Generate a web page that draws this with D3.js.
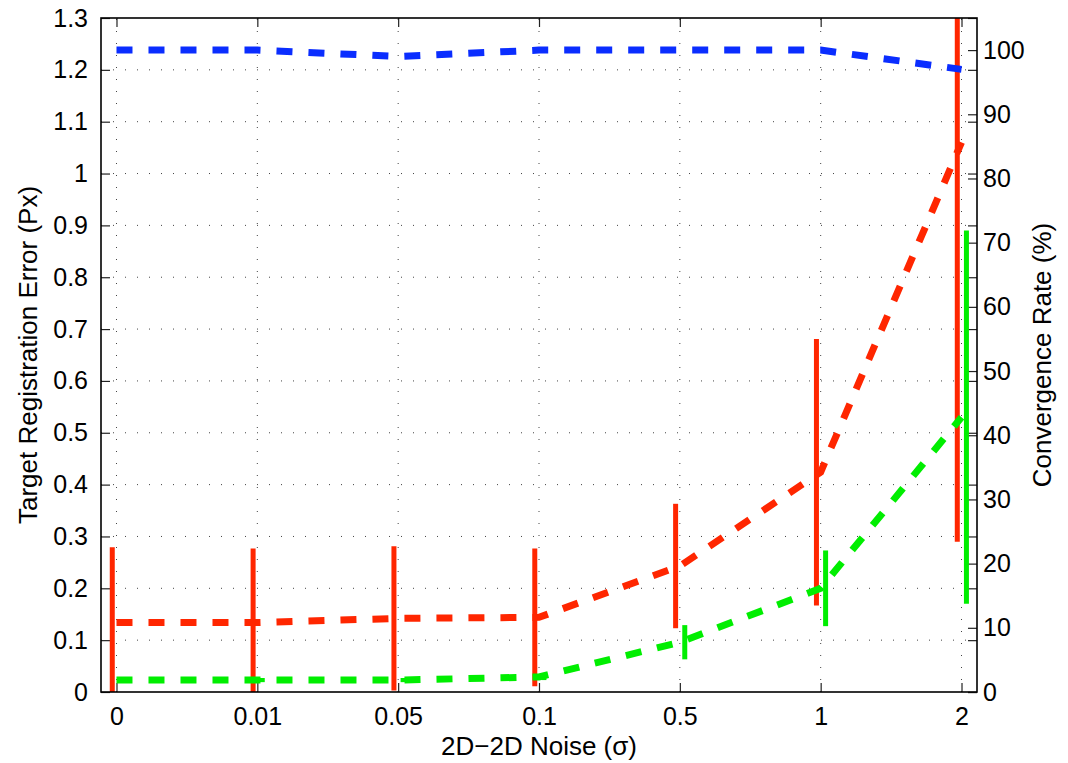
<!DOCTYPE html>
<html><head><meta charset="utf-8">
<script src="https://cdn.jsdelivr.net/npm/d3@7"></script>
<style>
html,body{margin:0;padding:0;background:#fff;}
svg{display:block;font-family:"Liberation Sans",Arial,Helvetica,sans-serif;}
</style></head>
<body>
<svg id="chart" width="1068" height="763"></svg>
<script>
// ---- data ----
const categories = ["0", "0.01", "0.05", "0.1", "0.5", "1", "2"];
const redMean  = [0.134, 0.134, 0.142, 0.144, 0.243, 0.424, 1.06];
const redErr   = [0.145, 0.143, 0.139, 0.133, 0.120, 0.257, 0.77];
const greenMean = [0.023, 0.023, 0.023, 0.029, 0.096, 0.200, 0.530];
const greenErr  = [0.004, 0.004, 0.004, 0.006, 0.033, 0.073, 0.360];
const convRate  = [100, 100, 99, 100, 100, 100, 97];
const leftTicks  = [0, 0.1, 0.2, 0.3, 0.4, 0.5, 0.6, 0.7, 0.8, 0.9, 1, 1.1, 1.2, 1.3];
const rightTicks = [0, 10, 20, 30, 40, 50, 60, 70, 80, 90, 100];

// ---- layout ----
const L = 101, R = 977, T = 18, B = 692;
const svg = d3.select("#chart");
const x  = d3.scaleLinear().domain([-0.11, 6.11]).range([L, R]);
const yL = d3.scaleLinear().domain([0, 1.3]).range([B, T]);
const yR = d3.scaleLinear().domain([0, 105]).range([B, T]);
const idx = d3.range(categories.length);

const FS = 25, LFS = 26;
const red = "#ff2600", green = "#00ee00", blue = "#0a2dff";

svg.append("defs").append("clipPath").attr("id", "clip")
  .append("rect").attr("x", L).attr("y", T).attr("width", R - L).attr("height", B - T);

// grid
const grid = svg.append("g").attr("stroke", "#444").attr("stroke-width", 1).attr("stroke-dasharray", "1,11");
grid.selectAll("line.v").data(idx).join("line").attr("class", "v")
  .attr("x1", d => x(d)).attr("x2", d => x(d)).attr("y1", B).attr("y2", T);
grid.selectAll("line.h").data(leftTicks.filter(v => v > 0 && v < 1.3)).join("line").attr("class", "h")
  .attr("x1", L).attr("x2", R).attr("y1", d => yL(d)).attr("y2", d => yL(d));

// axes
function styleAxis(g) {
  g.select(".domain").remove();
  g.selectAll(".tick line").attr("stroke", "#222").attr("stroke-width", 1.2);
  g.selectAll(".tick text").attr("fill", "#000").style("font-size", FS + "px");
}
const fmtL = d => String(+d.toFixed(1));
svg.append("g").attr("transform", `translate(${L},0)`)
  .call(d3.axisLeft(yL).tickValues(leftTicks).tickFormat(fmtL).tickSize(-9).tickPadding(13)).call(styleAxis);
svg.append("g").attr("transform", `translate(${R},0)`)
  .call(d3.axisRight(yL).tickValues(leftTicks).tickFormat("").tickSize(-9)).call(styleAxis);
svg.append("g").attr("transform", `translate(${R},0)`)
  .call(d3.axisRight(yR).tickValues(rightTicks).tickFormat(d3.format("d")).tickSize(-9).tickPadding(6)).call(styleAxis);
svg.append("g").attr("transform", `translate(0,${B})`)
  .call(d3.axisBottom(x).tickValues(idx).tickFormat(i => categories[i]).tickSize(-9).tickPadding(15)).call(styleAxis);
svg.append("g").attr("transform", `translate(0,${T})`)
  .call(d3.axisTop(x).tickValues(idx).tickFormat("").tickSize(-9)).call(styleAxis);

// data
const plot = svg.append("g").attr("clip-path", "url(#clip)");
function series(mean, err, color, off) {
  const line = d3.line().x((d, i) => x(i)).y(d => yL(d));
  plot.append("path").datum(mean).attr("d", line).attr("fill", "none")
    .attr("stroke", color).attr("stroke-width", 7).attr("stroke-dasharray", "16,16");
  plot.selectAll(null).data(idx).join("line")
    .attr("x1", i => x(i + off)).attr("x2", i => x(i + off))
    .attr("y1", i => yL(mean[i] - err[i])).attr("y2", i => yL(mean[i] + err[i]))
    .attr("stroke", color).attr("stroke-width", 5);
}
series(redMean, redErr, red, -0.03);
series(greenMean, greenErr, green, 0.035);
plot.append("path").datum(convRate)
  .attr("d", d3.line().x((d, i) => x(i)).y(d => yR(d)))
  .attr("fill", "none").attr("stroke", blue).attr("stroke-width", 7).attr("stroke-dasharray", "16,16");

// frame
svg.append("rect").attr("x", L).attr("y", T).attr("width", R - L).attr("height", B - T)
  .attr("fill", "none").attr("stroke", "#000").attr("stroke-width", 1.6);

// labels
svg.append("text").attr("transform", `translate(37,${(T + B) / 2}) rotate(-90)`)
  .attr("text-anchor", "middle").style("font-size", LFS + "px").text("Target Registration Error (Px)");
svg.append("text").attr("transform", `translate(1051,${(T + B) / 2}) rotate(-90)`)
  .attr("text-anchor", "middle").style("font-size", LFS + "px").text("Convergence Rate (%)");
svg.append("text").attr("x", (L + R) / 2).attr("y", 755)
  .attr("text-anchor", "middle").style("font-size", LFS + "px").text("2D\u22122D Noise (\u03c3)");
</script>
</body></html>
